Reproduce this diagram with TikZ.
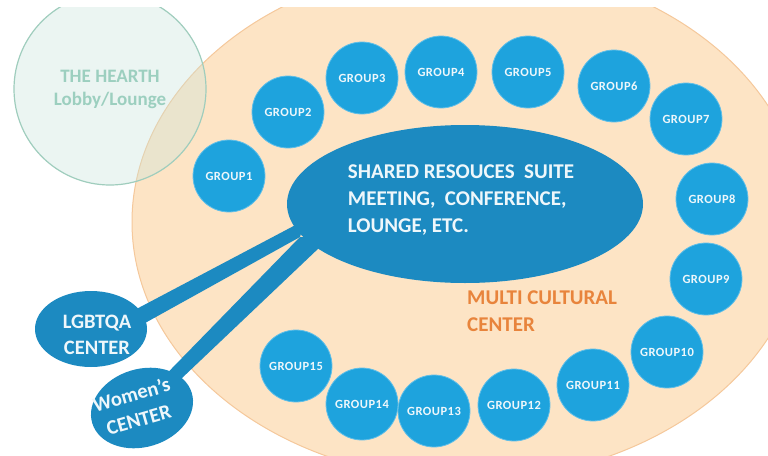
\documentclass[tikz,border=0pt]{standalone}
\usepackage{fontspec}
\setmainfont{Carlito}
\usetikzlibrary{shapes.geometric,calc}
\definecolor{orfill}{HTML}{FDE4C5}
\definecolor{oredge}{HTML}{F5C89B}
\definecolor{grp}{HTML}{1EA3DD}
\definecolor{grpedge}{HTML}{62BFE8}
\definecolor{dblue}{HTML}{1C8AC1}
\definecolor{hearthfill}{HTML}{C8E5DC}
\definecolor{hearthedge}{HTML}{9FCDBD}
\definecolor{hearthtext}{HTML}{9CCFBF}
\definecolor{mctext}{HTML}{E8843C}
\definecolor{wtext}{HTML}{EEF7FB}
\begin{document}
\begin{tikzpicture}[x=1pt,y=-1pt,
  grpnode/.style={circle,fill=grp,draw=grpedge,line width=0.8pt,minimum size=72pt,
    inner sep=0pt,text=wtext,
    font=\bfseries\fontsize{12.5}{14}\selectfont\addfontfeature{LetterSpace=4}},
  darkell/.style={ellipse,fill=dblue,inner sep=0pt,text=wtext},
  centertext/.style={align=center,text=wtext,inner sep=0pt,
    font=\bfseries\fontsize{20.5}{26}\selectfont},
  wedge/.style={fill=dblue}]
\useasboundingbox (0,0) rectangle (768,455);
\fill[white] (0,0) rectangle (768,455);
\begin{scope}
\clip (0,7) rectangle (768,455);
% multicultural center area
\fill[orfill, draw=oredge, line width=1pt] (468,222) ellipse [x radius=336, y radius=258];
% the hearth
\node[circle, minimum size=192pt, inner sep=0pt, fill=hearthfill, fill opacity=0.35,
  text opacity=1, draw=hearthedge, draw opacity=1, line width=1.2pt, text=hearthtext,
  align=center, font=\bfseries\fontsize{19}{23}\selectfont] (hearth) at (110,89)
  {THE HEARTH\\Lobby/Lounge};
% groups
\foreach \i/\x/\y in {1/229/176, 2/288/112, 3/362/78, 4/441/72, 5/528/72,
  6/614/86, 7/686/119, 8/712/199, 9/706/279, 10/667/352, 11/593/385,
  12/514/405, 13/434/411, 14/362/404, 15/296/366}
  \node[grpnode] (g\i) at (\x,\y) {GROUP\i};
% shared suite
\node[darkell, minimum width=356pt, minimum height=158pt] (sh) at (465,204) {};
\node[align=left, text=wtext, inner sep=0pt,
  font=\bfseries\fontsize{21}{27}\selectfont] (shtext) at (461,200)
  {SHARED RESOUCES\ \ SUITE\\MEETING,\ \ CONFERENCE,\\LOUNGE, ETC.};
% spokes
\coordinate (lgc) at (91,329);
\coordinate (wcc) at (142,408);
\coordinate (tip) at (300,237);
\fill[wedge] ($(lgc)+(0,4)$) -- ($(sh.center)+(-160,16)$) -- (tip) -- ($(lgc)+(0,24)$) -- cycle;
\fill[wedge] ($(wcc)+(0,-9)$) -- (tip) -- ($(sh.center)+(-135,33.5)$) -- ($(wcc)+(0,8)$) -- cycle;
% other centres
\node[darkell, minimum width=112pt, minimum height=76pt] (lg) at (lgc) {};
\node[centertext] (lgtext) at ($(lg.center)+(6,6)$) {LGBTQA\\CENTER};
\node[darkell, minimum width=104pt, minimum height=78pt, rotate=17] (wc) at (wcc) {};
\node[centertext, rotate=16] (wctext) at ($(wc.center)+(-7,-1)$) {Women’s\\CENTER};
% label
\node[anchor=west, align=left, text=mctext, inner sep=0pt,
  font=\bfseries\fontsize{21}{27}\selectfont] (mc) at (467,311)
  {MULTI CULTURAL\\CENTER};
\end{scope}
\end{tikzpicture}
\end{document}
